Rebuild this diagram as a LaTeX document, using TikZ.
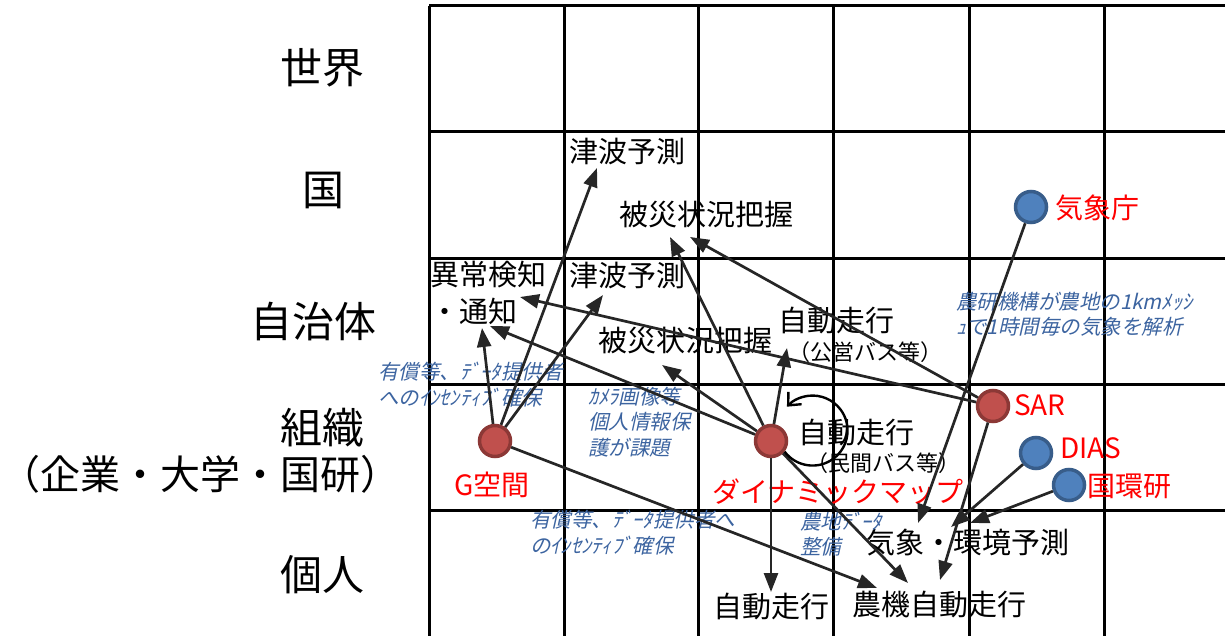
\documentclass[tikz,border=0pt]{standalone}
\usepackage{fontspec}
\setmainfont{Noto Sans CJK JP}
\newfontfamily\jpit[FakeSlant=0.22]{Noto Sans CJK JP}
\usetikzlibrary{arrows.meta}
\definecolor{arr}{RGB}{38,38,38}
\definecolor{redfill}{RGB}{192,80,77}
\definecolor{redline}{RGB}{140,56,54}
\definecolor{bluefill}{RGB}{79,129,189}
\definecolor{blueline}{RGB}{56,93,138}
\definecolor{notec}{RGB}{60,100,160}
\definecolor{lblred}{RGB}{255,0,0}
\begin{document}
\begin{tikzpicture}[x=1pt,y=-1pt,
  gridline/.style={line width=3pt,black},
  conn/.style={line width=2.7pt,draw=arr,-{Triangle[length=19pt,width=14pt]}},
  loopconn/.style={line width=2.4pt,draw=black,-{Straight Barb[length=10pt,width=18pt]}},
  redpt/.style={circle,fill=redfill,draw=redline,line width=3.5pt,minimum size=31pt,inner sep=0pt},
  bluept/.style={circle,fill=bluefill,draw=blueline,line width=3.5pt,minimum size=31pt,inner sep=0pt},
  rowlbl/.style={font=\fontsize{42}{50}\selectfont,inner sep=0pt},
  item/.style={font=\fontsize{29}{37}\selectfont,inner sep=0pt},
  sub/.style={font=\fontsize{22}{26}\selectfont,inner sep=0pt},
  redlbl/.style={font=\fontsize{28}{32}\selectfont,text=lblred,inner sep=0pt},
  note/.style={font=\jpit\fontsize{20.5}{25.5}\selectfont,text=notec,align=left,inner sep=0pt,anchor=west},
]
\useasboundingbox (0,0) rectangle (1225,636);
\begin{scope}
\clip (0,0) rectangle (1225,636);
\foreach \x in {429,564,698,833,969,1104} \draw[gridline] (\x,6) -- (\x,640);
\foreach \y in {6,132,258,384,510} \draw[gridline] (429,\y) -- (1230,\y);
\end{scope}

% row labels
\node[rowlbl] (r1) at (322,68) {世界};
\node[rowlbl] (r2) at (323,190) {国};
\node[rowlbl] (r3) at (313,322) {自治体};
\node[rowlbl] (r4) at (322,428) {組織};
\node[rowlbl,font=\fontsize{40}{48}\selectfont] (r4b) at (200,474) {（企業・大学・国研）};
\node[rowlbl] (r5) at (322,575) {個人};

% text items
\node[item] (ts1) at (627,152) {津波予測};
\node[item] (hs1) at (706,215) {被災状況把握};
\node[item,align=left,anchor=west] (ijou) at (430,293) {異常検知\\・通知};
\node[item] (ts2) at (627,276) {津波予測};
\node[item] (hs2) at (685,341) {被災状況把握};
\node[item] (koei) at (836,321) {自動走行};
\node[sub] (koeib) at (865,352) {（公営バス等）};
\node[item] (minkan) at (856,433) {自動走行};
\node[sub] (minkanb) at (883,463) {（民間バス等）};
\node[item] (kisho) at (968,543) {気象・環境予測};
\node[item] (nouki) at (939,605) {農機自動走行};
\node[item] (jb) at (771,607) {自動走行};

% notes
\node[note] (n1) at (378,384.5) {有償等、ﾃﾞｰﾀ提供者\\へのｲﾝｾﾝﾃｨﾌﾞ確保};
\node[note] (n2) at (588,422) {ｶﾒﾗ画像等\\個人情報保\\護が課題};
\node[note] (n3) at (956,314) {農研機構が農地の1kmﾒｯｼ\\ｭで1時間毎の気象を解析};
\node[note] (n4) at (530,532.5) {有償等、ﾃﾞｰﾀ提供者へ\\のｲﾝｾﾝﾃｨﾌﾞ確保};
\node[note] (n5) at (800,534) {農地ﾃﾞｰﾀ\\整備};

% points
\node[redpt] (g) at (495,441) {};
\node[redpt] (dm) at (771,441) {};
\node[redpt] (sar) at (993,406) {};
\node[bluept] (dias) at (1036,453) {};
\node[bluept] (kok) at (1069,485) {};
\node[bluept] (jma) at (1031,207) {};

\node[redlbl] (gl) at (492,485) {G空間};
\node[redlbl] (dml) at (838,492) {ダイナミックマップ};
\node[redlbl,anchor=west] (sarl) at (1014,405) {SAR};
\node[redlbl,anchor=west] (diasl) at (1060,448) {DIAS};
\node[redlbl,anchor=west] (kokl) at (1087,486) {国環研};
\node[redlbl,anchor=west] (jmal) at (1055,208) {気象庁};

% arrow tips
\coordinate (tTs1) at (597,168);
\coordinate (tTs2) at (603,295);
\coordinate (tTsuG) at (482,328);
\coordinate (tTsuD) at (490,326);
\coordinate (tNoukiG) at (877,588);
\coordinate (tHs1D) at (670,237);
\coordinate (tHs2D) at (662,365);
\coordinate (tKoei) at (787,348);
\coordinate (tJb) at (771,592);
\coordinate (tNoukiD) at (908,583);
\coordinate (tIjouS) at (520,297);
\coordinate (tHs1S) at (690,237);
\coordinate (tNoukiS) at (940,580);
\coordinate (tKishoJ) at (918,523);
\coordinate (tKishoD) at (951,527);
\coordinate (tKishoK) at (970,523);

\draw[conn] (g) -- (tTs1);
\draw[conn] (g) -- (tTs2);
\draw[conn] (g) -- (tTsuG);
\draw[conn] (g) -- (tNoukiG);
\draw[conn] (dm) -- (tTsuD);
\draw[conn] (dm) -- (tHs1D);
\draw[conn] (dm) -- (tHs2D);
\draw[conn] (dm) -- (tKoei);
\draw[conn] (dm) -- (tJb);
\draw[conn] (dm) -- (tNoukiD);
\draw[conn] (sar) -- (tIjouS);
\draw[conn] (sar) -- (tHs1S);
\draw[conn] (sar) -- (tNoukiS);
\draw[conn] (jma) -- (tKishoJ);
\draw[conn] (dias) -- (tKishoD);
\draw[conn] (kok) -- (tKishoK);

\draw[loopconn] (dm.-38) arc[start angle=143,end angle=-137,radius=35];
\end{tikzpicture}
\end{document}
